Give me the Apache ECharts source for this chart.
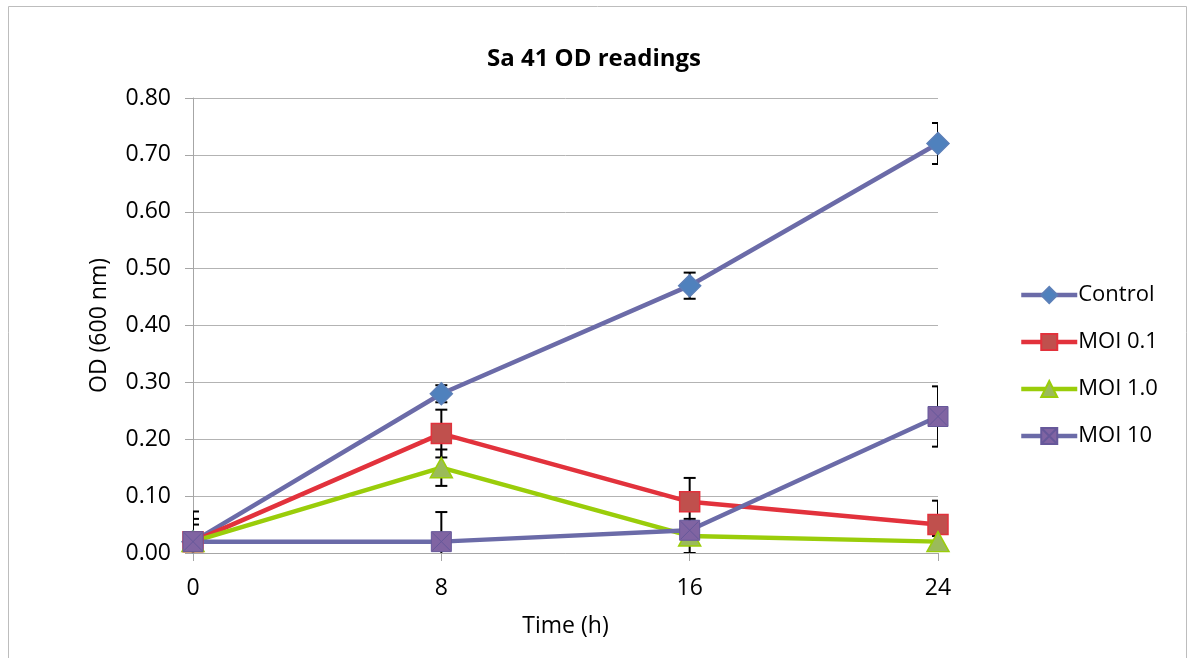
<!DOCTYPE html>
<html>
<head>
<meta charset="utf-8">
<script src="https://cdn.jsdelivr.net/npm/echarts@6/dist/echarts.min.js"></script>
<style>
html,body{margin:0;padding:0;background:#fff;}
#chart{width:1188px;height:658px;}
</style>
</head>
<body>
<div id="chart"></div>
<script>
const times = [0, 8, 16, 24];
const yTicks = [0, 0.1, 0.2, 0.3, 0.4, 0.5, 0.6, 0.7, 0.8];
const seriesNames = ['Control', 'MOI 0.1', 'MOI 1.0', 'MOI 10'];
const control = [0.02, 0.28, 0.47, 0.72];
const controlErr = [0.01, 0.015, 0.023, 0.036];
const moi01 = [0.02, 0.21, 0.09, 0.05];
const moi01Err = [0.04, 0.042, 0.042, 0.042];
const moi1 = [0.02, 0.15, 0.03, 0.02];
const moi1Err = [0.03, 0.032, 0.03, 0.01];
const moi10 = [0.02, 0.02, 0.04, 0.24];
const moi10Err = [0.053, 0.052, 0.015, 0.053];

const FONT = '"Open Sans", sans-serif';
const values = [control, moi01, moi1, moi10];
const errs = [controlErr, moi01Err, moi1Err, moi10Err];
const lineColors = ['#6B6BA8', '#E2323C', '#9ACD0A', '#6B6BA8'];
const markerFill = ['#4F81BD', '#C0504D', '#9BBB59', '#8064A2'];
const markerBorder = ['#5B7FB8', '#E2323C', '#9ACD0A', '#66589A'];
const symbols = [
  'diamond',
  'rect',
  'triangle',
  'path://M0,0 L20,0 L20,20 L0,20 Z M1,1 L19,19 M19,1 L1,19'
];
const symbolSizes = [[22, 22], 20, [22, 20], 20];
const LW = 4.5;

const chart = echarts.init(document.getElementById('chart'));

const lineSeries = seriesNames.map((name, i) => ({
  name: name,
  type: 'line',
  data: times.map((t, k) => [t, values[i][k]]),
  symbol: symbols[i],
  symbolSize: symbolSizes[i],
  showAllSymbol: true,
  z: 3,
  lineStyle: { color: lineColors[i], width: LW },
  itemStyle: { color: markerFill[i], borderColor: markerBorder[i], borderWidth: i === 3 ? 1 : 1.5, opacity: 1 },
  emphasis: { disabled: true },
  animation: false
}));

const errSeries = seriesNames.map((name, i) => ({
  name: name + ' err',
  type: 'custom',
  clip: true,
  z: 2,
  data: times.map((t, k) => [t, values[i][k] - errs[i][k], values[i][k] + errs[i][k]]),
  renderItem: function (params, api) {
    const x = api.value(0);
    const lo = api.coord([x, api.value(1)]);
    const hi = api.coord([x, api.value(2)]);
    const hw = 6;
    const style = { stroke: '#000', lineWidth: 2, fill: null };
    return {
      type: 'group',
      children: [
        { type: 'line', shape: { x1: hi[0], y1: hi[1], x2: lo[0], y2: lo[1] }, style: style },
        { type: 'line', shape: { x1: hi[0] - hw, y1: hi[1], x2: hi[0] + hw, y2: hi[1] }, style: style },
        { type: 'line', shape: { x1: lo[0] - hw, y1: lo[1], x2: lo[0] + hw, y2: lo[1] }, style: style }
      ]
    };
  },
  silent: true,
  animation: false
}));

chart.setOption({
  backgroundColor: '#fff',
  animation: false,
  title: {
    text: 'Sa 41 OD readings',
    left: 'center',
    top: 42,
    textStyle: { fontFamily: FONT, fontSize: 24, fontWeight: 'bold', color: '#000' }
  },
  graphic: [{
    type: 'rect',
    shape: { x: 8.5, y: 6.5, width: 1178, height: 660 },
    style: { fill: null, stroke: '#BDBDBD', lineWidth: 1 },
    silent: true
  }],
  legend: {
    orient: 'vertical',
    left: 1014,
    top: 279,
    itemWidth: 56,
    itemHeight: 20,
    itemGap: 25,
    data: seriesNames,
    lineStyle: { width: LW },
    textStyle: { fontFamily: FONT, fontSize: 22, color: '#000', padding: [0, 0, 0, -4] }
  },
  grid: { left: 193, right: 250, top: 98, bottom: 105, containLabel: false },
  xAxis: {
    type: 'value',
    min: 0,
    max: 24,
    interval: 8,
    name: 'Time (h)',
    nameLocation: 'middle',
    nameGap: 62,
    nameTextStyle: { fontFamily: FONT, fontSize: 23, color: '#000' },
    axisLine: { show: true, lineStyle: { color: '#A6A6A6', width: 1 } },
    axisTick: { show: true, length: 8, lineStyle: { color: '#A6A6A6' } },
    axisLabel: { fontFamily: FONT, fontSize: 23, color: '#000', margin: 24 },
    splitLine: { show: false }
  },
  yAxis: {
    type: 'value',
    min: 0,
    max: 0.8,
    interval: 0.1,
    name: 'OD (600 nm)',
    nameLocation: 'middle',
    nameGap: 82,
    nameRotate: 90,
    nameTextStyle: { fontFamily: FONT, fontSize: 23, color: '#000' },
    axisLine: { show: true, lineStyle: { color: '#A6A6A6', width: 1 } },
    axisTick: { show: true, length: 8, lineStyle: { color: '#A6A6A6' } },
    axisLabel: {
      fontFamily: FONT, fontSize: 23, color: '#000', margin: 22,
      formatter: v => v.toFixed(2)
    },
    splitLine: { show: true, lineStyle: { color: '#B3B3B3', width: 1 } }
  },
  series: errSeries.concat(lineSeries)
});
</script>
</body>
</html>
